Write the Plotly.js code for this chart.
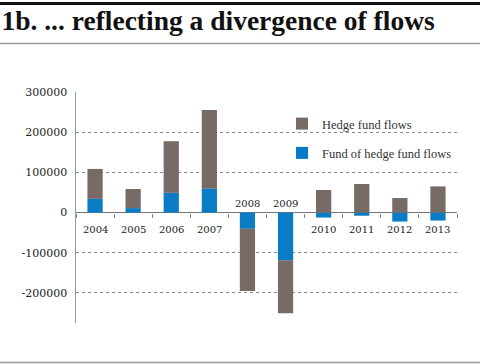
<!DOCTYPE html>
<html>
<head>
<meta charset="utf-8">
<script src="https://cdn.plot.ly/plotly-3.0.1.min.js"></script>
<style>html,body{margin:0;padding:0;background:#fff;}#chart{width:480px;height:364px;}</style>
</head>
<body>
<div id="chart"></div>
<script>
const years = ['2004','2005','2006','2007','2008','2009','2010','2011','2012','2013'];
const fundOfHedgeFundFlows = [34000, 11000, 49000, 60000, -40500, -119000, -12500, -8000, -22500, -20000];
const hedgeFundFlows = [74500, 47500, 128500, 195000, -155000, -131500, 56000, 71000, 36000, 65000];
const yTickVals = [-200000, -100000, 0, 100000, 200000, 300000];
const yTickText = yTickVals.map(v => String(v));
const yRange = [-275000, 300000];

const M = {l: 76, r: 23, t: 92, b: 41};
const W = 480 - M.l - M.r, H = 364 - M.t - M.b;
const px = x => (x - M.l) / W;
const py = y => (364 - M.b - y) / H;

const serif = 'DejaVu Serif';
const greyC = '#786b66';
const blueC = '#0a7cc5';

const traces = [
  {type: 'bar', name: 'Fund of hedge fund flows', x: years, y: fundOfHedgeFundFlows,
   marker: {color: blueC}, legendgroup: 'b', legendrank: 2, width: 0.4},
  {type: 'bar', name: 'Hedge fund flows', x: years, y: hedgeFundFlows,
   marker: {color: greyC}, legendgroup: 'a', legendrank: 1, width: 0.4}
];

const annotations = years.map((yr, i) => ({
  x: i, y: 0, xref: 'x', yref: 'y', text: yr, showarrow: false,
  yshift: hedgeFundFlows[i] > 0 ? -17 : 9,
  font: {family: serif, size: 10, color: '#222'}
}));

const layout = {
  width: 480, height: 364,
  margin: M,
  paper_bgcolor: '#fff', plot_bgcolor: '#fff',
  barmode: 'relative',
  showlegend: true,
  legend: {x: px(282), y: py(109), xanchor: 'left', yanchor: 'top',
           traceorder: 'grouped', tracegroupgap: 10,
           font: {family: 'Liberation Serif', size: 12.5, color: '#333'},
           bgcolor: 'rgba(0,0,0,0)'},
  title: {text: '<b>1b. ... reflecting a divergence of flows</b>',
          x: 0.003, xref: 'container', xanchor: 'left',
          y: 1 - 20 / 364, yref: 'container', yanchor: 'middle',
          font: {family: 'Liberation Serif', size: 27.5, color: '#111'}},
  xaxis: {type: 'category', range: [-0.5, 9.5], anchor: 'free',
          position: (0 - yRange[0]) / (yRange[1] - yRange[0]),
          showline: false, showgrid: false, zeroline: false,
          ticks: 'outside', tickson: 'boundaries', ticklen: 4, tickwidth: 1, tickcolor: '#888',
          showticklabels: false, fixedrange: true},
  yaxis: {range: yRange, tickvals: yTickVals, ticktext: yTickText,
          showline: true, linecolor: '#999', linewidth: 1.5,
          showgrid: true, gridcolor: '#888', griddash: '3px,3px', gridwidth: 1,
          zeroline: true, zerolinecolor: '#777', zerolinewidth: 1.5,
          ticks: '', ticklabelstandoff: 5,
          tickfont: {family: serif, size: 11, color: '#222'}, fixedrange: true},
  annotations: annotations,
  shapes: [
    {type: 'line', xref: 'paper', yref: 'paper', x0: px(0), x1: px(480), y0: py(3.5), y1: py(3.5),
     line: {color: '#111', width: 3}},
    {type: 'line', xref: 'paper', yref: 'paper', x0: px(0), x1: px(480), y0: py(43.5), y1: py(43.5),
     line: {color: '#999', width: 1.5}},
    {type: 'line', xref: 'paper', yref: 'paper', x0: px(0), x1: px(480), y0: py(362.5), y1: py(362.5),
     line: {color: '#aaa', width: 2}}
  ]
};

Plotly.newPlot('chart', traces, layout, {displayModeBar: false, staticPlot: true});
</script>
</body>
</html>
